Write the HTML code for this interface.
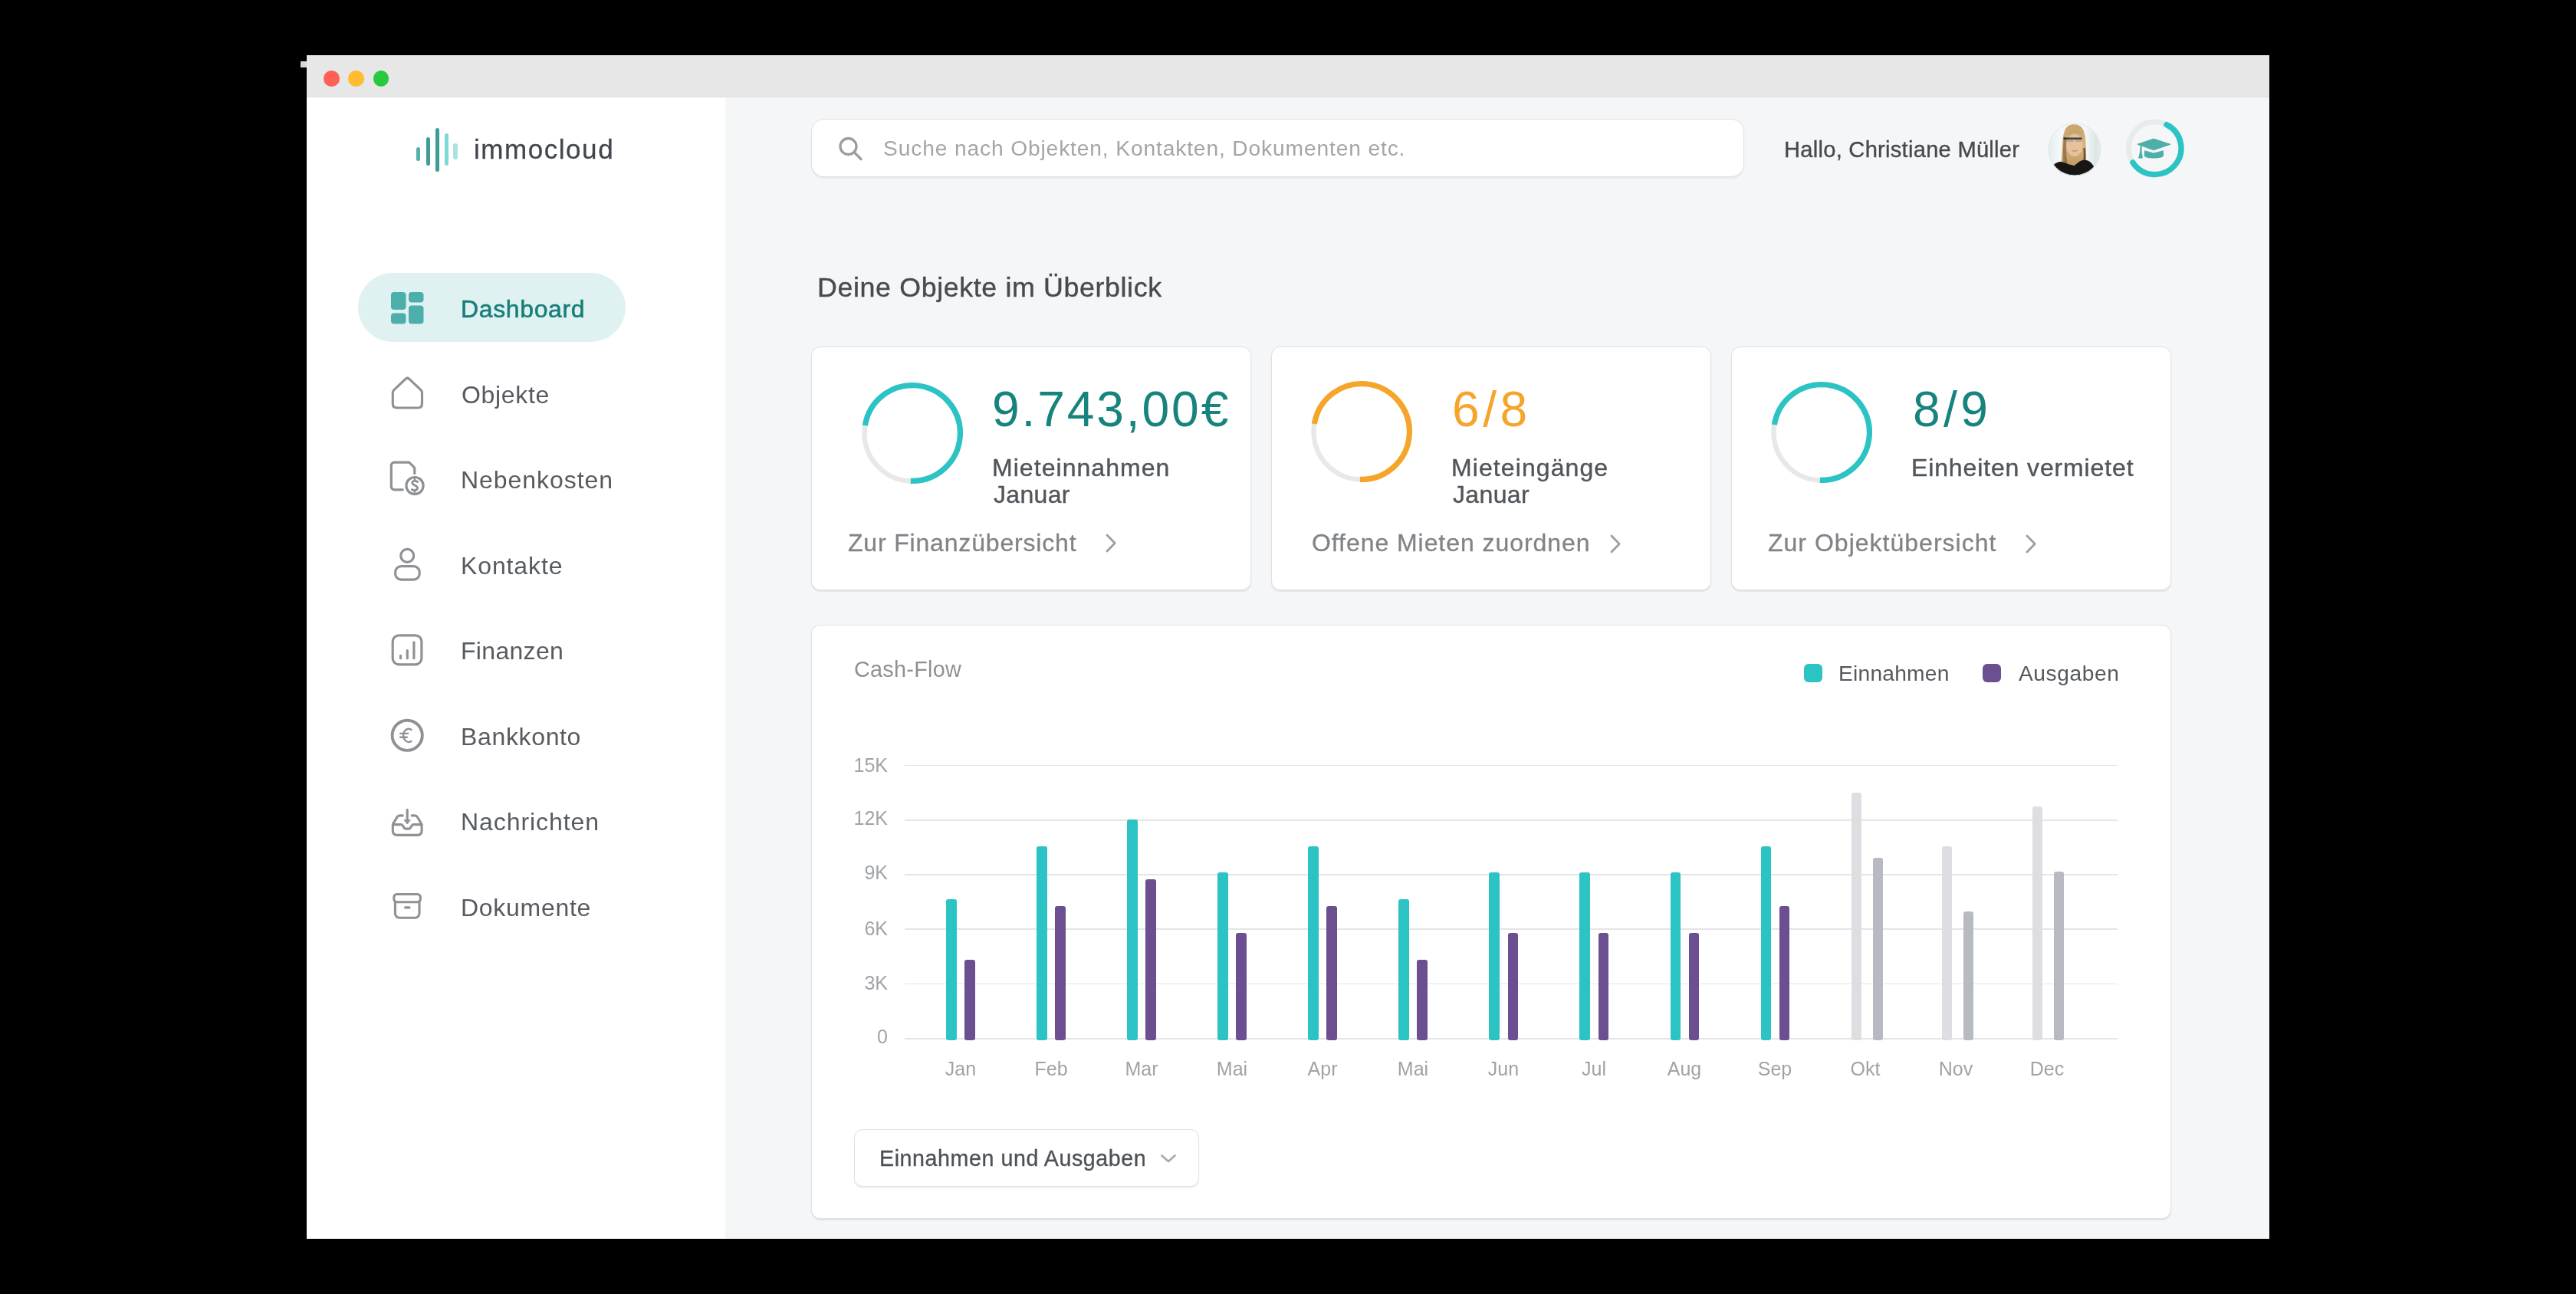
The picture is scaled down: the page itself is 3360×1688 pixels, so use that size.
<!DOCTYPE html>
<html><head><meta charset="utf-8"><title>immocloud Dashboard</title>
<style>
*{box-sizing:border-box;margin:0;padding:0}
html,body{width:3360px;height:1688px;overflow:hidden;background:#000;font-family:"Liberation Sans", sans-serif}
.a{position:absolute}
.t{position:absolute;white-space:nowrap;font-family:"Liberation Sans", sans-serif;will-change:transform}
.med{-webkit-text-stroke:0.45px currentColor}
.card{position:absolute;background:#fff;border:1.75px solid #E0E1E4;border-radius:12px;box-shadow:0 1.5px 1.5px rgba(0,0,0,0.08)}
</style></head><body>

<div class="a" style="left:392px;top:80px;width:8px;height:8px;background:#D7D7D7"></div>
<div class="a" style="left:400px;top:72px;width:2560px;height:55px;background:#E7E7E7"></div>
<div class="a" style="left:400px;top:126px;width:2560px;height:1px;background:#DEDEDE"></div>
<div class="a" style="left:422.0px;top:92.2px;width:20.6px;height:20.6px;border-radius:50%;background:#FE5F57"></div>
<div class="a" style="left:454.3px;top:92.2px;width:20.6px;height:20.6px;border-radius:50%;background:#FEBC2E"></div>
<div class="a" style="left:486.7px;top:92.2px;width:20.6px;height:20.6px;border-radius:50%;background:#28C840"></div>
<div class="a" style="left:400px;top:127px;width:546px;height:1489px;background:#FFFFFF"></div>
<div class="a" style="left:946px;top:127px;width:2014px;height:1489px;background:#F5F6F8"></div>
<div class="a" style="left:542.8px;top:192.3px;width:5.1px;height:17.6px;border-radius:3px;background:#52B3A8"></div>
<div class="a" style="left:555.5px;top:178.9px;width:5.3px;height:37.0px;border-radius:3px;background:#3F9C96"></div>
<div class="a" style="left:567.5px;top:167.0px;width:5.2px;height:56.5px;border-radius:3px;background:#3E9C96"></div>
<div class="a" style="left:579.8px;top:173.7px;width:5.1px;height:42.7px;border-radius:3px;background:#7FD8D8"></div>
<div class="a" style="left:591.4px;top:187.0px;width:5.4px;height:21.3px;border-radius:3px;background:#A6E3E3"></div>
<div class="a" style="left:467px;top:356px;width:349px;height:90px;border-radius:45px;background:#E0F1F1"></div>
<svg class="a" style="left:0;top:0" width="1000" height="1300" viewBox="0 0 1000 1300">
<g fill="#4DAFAA">
<rect x="510" y="381" width="19.5" height="23" rx="4"/>
<rect x="533" y="381" width="19.5" height="13.5" rx="4"/>
<rect x="510" y="408.5" width="19.5" height="14" rx="4"/>
<rect x="533" y="398.5" width="19.5" height="24" rx="4"/>
</g>
<g fill="none" stroke="#8E9196" stroke-width="3.15" stroke-linecap="round" stroke-linejoin="round">
<path d="M517.5 532H545.3Q550.5 532 550.5 526.8V512.5Q550.5 510 548.6 508.4L533.6 494.2Q531.4 492.3 529.2 494.2L514.2 508.4Q512.3 510 512.3 512.5V526.8Q512.3 532 517.5 532Z"/>
<path d="M525.3 638.8H514.3a4 4 0 0 1-4-4V607.1a4 4 0 0 1 4-4H532.5a3 3 0 0 1 2.1 0.9l5.3 5.3a3 3 0 0 1 0.9 2.1V617.7" stroke-width="3.2"/>
<circle cx="541" cy="633.6" r="11.1" stroke-width="3.2"/>
<path d="M544.6 628.6C543.4 626.9 537.8 626.6 537.8 629.9C537.8 633.1 544.6 632.8 544.6 636.6C544.6 640.3 538.6 640 537.3 638.5M541 625.5V626.9M541 640.3V641.6" stroke-width="2.8"/>
<circle cx="531.2" cy="724.8" r="8.5"/>
<rect x="515.6" y="738.6" width="31.6" height="17.6" rx="7.8"/>
<rect x="512.2" y="828.8" width="37.7" height="38" rx="8"/>
<path d="M522.5 855.2V858.7M531.3 848.5V858.7M539.9 837.8V858.7"/>
<circle cx="531.2" cy="959.3" r="19.6" stroke-width="3.9"/>
<path d="M537.2 952.4A7 8.6 0 1 0 537.2 966.3" stroke-width="2.4" stroke-linecap="butt"/>
<path d="M521.2 956.9H533M521.2 961.7H531.7" stroke-width="2.4" stroke-linecap="butt"/>
<path d="M525.3 1063.9H521.6Q519.2 1063.9 518 1065.8L513.3 1073.6Q512.3 1075.2 512.3 1077.3V1083.6Q512.3 1089.4 518.1 1089.4H544.3Q550.1 1089.4 550.1 1083.6V1077.3Q550.1 1075.2 549.1 1073.6L544.4 1065.8Q543.2 1063.9 540.8 1063.9H537.2" stroke-width="3.1"/>
<path d="M512.3 1075.6H523.2Q524.3 1075.6 525 1076.6L527.1 1079.9Q527.9 1081.1 529.2 1081.1H533.2Q534.5 1081.1 535.3 1079.9L537.4 1076.6Q538.1 1075.6 539.2 1075.6H550.1" stroke-width="3.1"/>
<path d="M531.2 1056.2V1070" stroke-width="3.1"/>
<rect x="513.8" y="1166.5" width="34.6" height="10.2" rx="4" stroke-width="3.1"/>
<path d="M515.4 1176.7V1191.5a5.8 5.8 0 0 0 5.8 5.8H541.2a5.8 5.8 0 0 0 5.8-5.8V1176.7M528.6 1183.9H534" stroke-width="3.1"/>
</g>
<path d="M527 1069.6H535.4L531.2 1075Z" fill="#8E9196" stroke="#8E9196" stroke-width="0.8" stroke-linejoin="round"/>
</svg>
<div class="a" style="left:1058px;top:155px;width:1217px;height:76px;border-radius:17px;background:#fff;border:1.75px solid #E0E1E4;box-shadow:0 1.5px 1.5px rgba(0,0,0,0.06)"></div>
<svg class="a" style="left:1090px;top:175px" width="40" height="40" viewBox="0 0 40 40"><g fill="none" stroke="#9A9DA1" stroke-width="3.3" stroke-linecap="round"><circle cx="16.5" cy="16" r="10.5"/><path d="M24.5 24l8.5 8.5"/></g></svg>
<svg class="a" style="left:2671px;top:160px" width="70" height="70" viewBox="0 0 70 70">
<defs><clipPath id="av"><circle cx="35" cy="34.9" r="34.3"/></clipPath>
<linearGradient id="bgav" x1="0" y1="0" x2="1" y2="0"><stop offset="0" stop-color="#E3EBEB"/><stop offset="0.25" stop-color="#F7F9F9"/><stop offset="0.7" stop-color="#F4F7F7"/><stop offset="0.9" stop-color="#DCE6E6"/><stop offset="1" stop-color="#E8EEEE"/></linearGradient>
<linearGradient id="hair" x1="0" y1="0" x2="0" y2="1"><stop offset="0" stop-color="#C9A46C"/><stop offset="0.5" stop-color="#D6B47E"/><stop offset="1" stop-color="#C29B63"/></linearGradient></defs>
<g clip-path="url(#av)">
<rect width="70" height="70" fill="url(#bgav)"/>
<path d="M34.6 2.3C28 2.3 24.5 5 22.5 9.5C20 15 19.5 22 18.8 32C18.2 40 18 47 17.6 55L28 56L42 55L50.2 50C50 42 50 33 49.2 22C48.5 13 46 7 42 4.5C40 3 37.5 2.3 34.6 2.3Z" fill="url(#hair)"/>
<path d="M21 18C20 28 19.5 40 20.5 52L25.5 53C24 42 23.5 30 24.5 20Z" fill="#6E5235" opacity="0.55"/>
<path d="M46.5 33C47 40 47 46 46 51L49 50C49.5 44 49.3 38 48.8 33Z" fill="#3A2C20" opacity="0.7"/>
<ellipse cx="35" cy="29.5" rx="10.6" ry="14.6" fill="#E6C29B"/>
<path d="M24 17C26 10 32 8 37 9C42 10 45.5 13 46.5 18C42 14 36 13.5 31 14.5C28 15 25.5 16 24 17Z" fill="#C9A46C"/>
<path d="M20.5 19.5H44.5V22H20.5Z" fill="#2E2A2A" opacity="0.9"/>
<path d="M24.5 21.5H33.5V25H24.5ZM36 21.5H44V25H36Z" fill="#9C8C96" opacity="0.55"/>
<path d="M31 36C33 37.5 37 37.5 39 36" stroke="#B07F6A" stroke-width="1" fill="none"/>
<path d="M5 58C9 53 13 51 16.4 51C21 51.5 25 53 28 54.5L34.6 56L41 51C44 49 47 48.5 50 49C54 49.5 57 52 60 57L62 72L5 72Z" fill="#161616"/>
</g>
<circle cx="35" cy="34.9" r="34" fill="none" stroke="#E2E6E8" stroke-width="1"/>
</svg>
<svg class="a" style="left:2760px;top:143px" width="102" height="102" viewBox="0 0 102 102">
<circle cx="50.7" cy="50.3" r="34.3" fill="none" stroke="#E9EAEC" stroke-width="7"/>
<path d="M66.00 19.60A34.3 34.3 0 1 1 21.93 68.98" fill="none" stroke="#2BC4C4" stroke-width="7.4" stroke-linecap="round"/>
<g fill="#4DAFAA">
<path d="M28 45.2L49.1 38.1L71 45.3L49.1 52.7Z" stroke="#4DAFAA" stroke-width="1" stroke-linejoin="round"/>
<path d="M37.2 53.2L49.1 56.6L61.7 53.2L62.2 59.2Q62 63.6 49.1 63.6Q36.6 63.6 36.7 59.2Z"/>
<path d="M31.6 46.5L33.6 46.5L33.7 55L34.9 63.6L29.1 63.6L31.2 55Z"/>
</g>
</svg>
<div class="card" style="left:1058px;top:452px;width:574.0px;height:318px"></div>
<div class="card" style="left:1658px;top:452px;width:574.0px;height:318px"></div>
<div class="card" style="left:2258px;top:452px;width:574.0px;height:318px"></div>
<svg class="a" style="left:1120.2px;top:495.0px" width="140" height="140" viewBox="0 0 140 140">
<circle cx="70" cy="70" r="62.5" fill="none" stroke="#E8E8E9" stroke-width="6.4"/>
<path d="M8.40 60.02A62.4 62.4 0 1 1 67.82 132.36" fill="none" stroke="#2BC3C3" stroke-width="7.2"/>
</svg>
<svg class="a" style="left:1705.9px;top:493.1px" width="140" height="140" viewBox="0 0 140 140">
<circle cx="70" cy="70" r="62.5" fill="none" stroke="#E8E8E9" stroke-width="6.4"/>
<path d="M8.40 60.02A62.4 62.4 0 1 1 67.82 132.36" fill="none" stroke="#F5A52A" stroke-width="7.2"/>
</svg>
<svg class="a" style="left:2306.0px;top:494.4px" width="140" height="140" viewBox="0 0 140 140">
<circle cx="70" cy="70" r="62.5" fill="none" stroke="#E8E8E9" stroke-width="6.4"/>
<path d="M8.40 60.02A62.4 62.4 0 1 1 67.82 132.36" fill="none" stroke="#2BC3C3" stroke-width="7.2"/>
</svg>
<svg class="a" style="left:1438px;top:692px" width="24" height="32" viewBox="0 0 24 32"><path d="M6 6L16.2 16.5L6 27" fill="none" stroke="#9B9EA2" stroke-width="2.8" stroke-linecap="round" stroke-linejoin="round"/></svg>
<svg class="a" style="left:2096px;top:693px" width="24" height="32" viewBox="0 0 24 32"><path d="M6 6L16.2 16.5L6 27" fill="none" stroke="#9B9EA2" stroke-width="2.8" stroke-linecap="round" stroke-linejoin="round"/></svg>
<svg class="a" style="left:2638px;top:693px" width="24" height="32" viewBox="0 0 24 32"><path d="M6 6L16.2 16.5L6 27" fill="none" stroke="#9B9EA2" stroke-width="2.8" stroke-linecap="round" stroke-linejoin="round"/></svg>
<div class="card" style="left:1058px;top:815px;width:1774px;height:774.5px;border-radius:12px"></div>
<div class="a" style="left:2353.1px;top:865.8px;width:24.1px;height:24.1px;border-radius:6px;background:#2BC3C3"></div>
<div class="a" style="left:2586.2px;top:865.8px;width:24.1px;height:24.1px;border-radius:6px;background:#6B4F90"></div>
<div class="a" style="left:1180px;top:997.85px;width:1582.4px;height:1.5px;background:#E5E5E7"></div>
<div class="a" style="left:1180px;top:1069.05px;width:1582.4px;height:1.5px;background:#E5E5E7"></div>
<div class="a" style="left:1180px;top:1140.05px;width:1582.4px;height:1.5px;background:#E5E5E7"></div>
<div class="a" style="left:1180px;top:1211.15px;width:1582.4px;height:1.5px;background:#E5E5E7"></div>
<div class="a" style="left:1180px;top:1282.85px;width:1582.4px;height:1.5px;background:#E5E5E7"></div>
<div class="a" style="left:1180px;top:1354.10px;width:1582.4px;height:2.2px;background:#E5E5E7"></div>
<div class="a" style="left:1234.1px;top:1173.3px;width:13.5px;height:183.7px;border-radius:3px;background:#2BC3C3"></div>
<div class="a" style="left:1258.2px;top:1251.5px;width:13.6px;height:105.5px;border-radius:3px;background:#6B4F90"></div>
<div class="a" style="left:1352.1px;top:1103.7px;width:13.5px;height:253.3px;border-radius:3px;background:#2BC3C3"></div>
<div class="a" style="left:1376.2px;top:1181.9px;width:13.6px;height:175.1px;border-radius:3px;background:#6B4F90"></div>
<div class="a" style="left:1470.2px;top:1069.0px;width:13.5px;height:288.0px;border-radius:3px;background:#2BC3C3"></div>
<div class="a" style="left:1494.3px;top:1147.2px;width:13.6px;height:209.8px;border-radius:3px;background:#6B4F90"></div>
<div class="a" style="left:1588.2px;top:1138.3px;width:13.5px;height:218.7px;border-radius:3px;background:#2BC3C3"></div>
<div class="a" style="left:1612.3px;top:1216.5px;width:13.6px;height:140.5px;border-radius:3px;background:#6B4F90"></div>
<div class="a" style="left:1706.3px;top:1103.7px;width:13.5px;height:253.3px;border-radius:3px;background:#2BC3C3"></div>
<div class="a" style="left:1730.4px;top:1181.9px;width:13.6px;height:175.1px;border-radius:3px;background:#6B4F90"></div>
<div class="a" style="left:1824.3px;top:1173.3px;width:13.5px;height:183.7px;border-radius:3px;background:#2BC3C3"></div>
<div class="a" style="left:1848.4px;top:1251.5px;width:13.6px;height:105.5px;border-radius:3px;background:#6B4F90"></div>
<div class="a" style="left:1942.4px;top:1138.3px;width:13.5px;height:218.7px;border-radius:3px;background:#2BC3C3"></div>
<div class="a" style="left:1966.5px;top:1216.5px;width:13.6px;height:140.5px;border-radius:3px;background:#6B4F90"></div>
<div class="a" style="left:2060.4px;top:1138.3px;width:13.5px;height:218.7px;border-radius:3px;background:#2BC3C3"></div>
<div class="a" style="left:2084.5px;top:1216.5px;width:13.6px;height:140.5px;border-radius:3px;background:#6B4F90"></div>
<div class="a" style="left:2178.5px;top:1138.3px;width:13.5px;height:218.7px;border-radius:3px;background:#2BC3C3"></div>
<div class="a" style="left:2202.6px;top:1216.5px;width:13.6px;height:140.5px;border-radius:3px;background:#6B4F90"></div>
<div class="a" style="left:2296.6px;top:1103.7px;width:13.5px;height:253.3px;border-radius:3px;background:#2BC3C3"></div>
<div class="a" style="left:2320.7px;top:1181.9px;width:13.6px;height:175.1px;border-radius:3px;background:#6B4F90"></div>
<div class="a" style="left:2414.6px;top:1034.4px;width:13.5px;height:322.6px;border-radius:3px;background:#DDDEE1"></div>
<div class="a" style="left:2442.5px;top:1119.4px;width:13.6px;height:237.6px;border-radius:3px;background:#B7BAC0"></div>
<div class="a" style="left:2532.6px;top:1104.0px;width:13.5px;height:253.0px;border-radius:3px;background:#DDDEE1"></div>
<div class="a" style="left:2560.5px;top:1189.0px;width:13.6px;height:168.0px;border-radius:3px;background:#B7BAC0"></div>
<div class="a" style="left:2650.7px;top:1052.0px;width:13.5px;height:305.0px;border-radius:3px;background:#DDDEE1"></div>
<div class="a" style="left:2678.6px;top:1137.0px;width:13.6px;height:220.0px;border-radius:3px;background:#B7BAC0"></div>
<div class="a" style="left:1113.5px;top:1472.5px;width:450px;height:75.5px;border-radius:11px;background:#fff;border:1.75px solid #DFE0E3;box-shadow:0 1.5px 1.5px rgba(0,0,0,0.06)"></div>
<svg class="a" style="left:1509px;top:1498px" width="30" height="26" viewBox="0 0 30 26"><path d="M6.5 9.4L14.95 17.1L23.4 9.4" fill="none" stroke="#A7AAAD" stroke-width="2.7" stroke-linecap="round" stroke-linejoin="round"/></svg>
<div class="t" style="left:618.00px;top:177.00px;font-size:35px;line-height:35px;color:#41474D;letter-spacing:1.547px;-webkit-text-stroke:0.3px currentColor">immocloud</div>
<div class="t" style="left:600.50px;top:387.00px;font-size:32px;line-height:32px;color:#167F79;letter-spacing:0.625px;-webkit-text-stroke:0.55px currentColor">Dashboard</div>
<div class="t" style="left:601.50px;top:499.00px;font-size:32px;line-height:32px;color:#575B60;letter-spacing:0.667px;">Objekte</div>
<div class="t" style="left:600.50px;top:610.00px;font-size:32px;line-height:32px;color:#575B60;letter-spacing:0.950px;">Nebenkosten</div>
<div class="t" style="left:600.50px;top:722.00px;font-size:32px;line-height:32px;color:#575B60;letter-spacing:0.885px;">Kontakte</div>
<div class="t" style="left:600.50px;top:833.00px;font-size:32px;line-height:32px;color:#575B60;letter-spacing:0.314px;">Finanzen</div>
<div class="t" style="left:600.50px;top:945.00px;font-size:32px;line-height:32px;color:#575B60;letter-spacing:0.650px;">Bankkonto</div>
<div class="t" style="left:600.50px;top:1056.00px;font-size:32px;line-height:32px;color:#575B60;letter-spacing:0.920px;">Nachrichten</div>
<div class="t" style="left:600.50px;top:1168.00px;font-size:32px;line-height:32px;color:#575B60;letter-spacing:0.722px;">Dokumente</div>
<div class="t" style="left:1151.50px;top:179.00px;font-size:28.2px;line-height:28.2px;color:#A3A5A8;letter-spacing:0.860px;">Suche nach Objekten, Kontakten, Dokumenten etc.</div>
<div class="t" style="left:2326.60px;top:181.00px;font-size:29.1px;line-height:29.1px;color:#46494E;letter-spacing:0.270px;-webkit-text-stroke:0.35px currentColor">Hallo, Christiane Müller</div>
<div class="t" style="left:1065.50px;top:358.00px;font-size:35.8px;line-height:35.8px;color:#474B50;letter-spacing:0.616px;-webkit-text-stroke:0.4px currentColor">Deine Objekte im Überblick</div>
<div class="t" style="left:1293.90px;top:502.00px;font-size:64.2px;line-height:64.2px;color:#16847D;letter-spacing:2.847px;">9.743,00€</div>
<div class="t" style="left:1294.00px;top:594.00px;font-size:32px;line-height:32px;color:#51565B;letter-spacing:1.051px;-webkit-text-stroke:0.4px currentColor">Mieteinnahmen</div>
<div class="t" style="left:1296.00px;top:629.00px;font-size:32px;line-height:32px;color:#51565B;letter-spacing:0.320px;-webkit-text-stroke:0.4px currentColor">Januar</div>
<div class="t" style="left:1106.20px;top:692.00px;font-size:32px;line-height:32px;color:#808488;letter-spacing:0.822px;-webkit-text-stroke:0.3px currentColor">Zur Finanzübersicht</div>
<div class="t" style="left:1894.00px;top:502.00px;font-size:64.2px;line-height:64.2px;color:#F5A52A;letter-spacing:4.500px;">6/8</div>
<div class="t" style="left:1893.20px;top:594.00px;font-size:32px;line-height:32px;color:#51565B;letter-spacing:1.091px;-webkit-text-stroke:0.4px currentColor">Mieteingänge</div>
<div class="t" style="left:1895.20px;top:629.00px;font-size:32px;line-height:32px;color:#51565B;letter-spacing:0.360px;-webkit-text-stroke:0.4px currentColor">Januar</div>
<div class="t" style="left:1710.90px;top:692.00px;font-size:32px;line-height:32px;color:#808488;letter-spacing:0.943px;-webkit-text-stroke:0.3px currentColor">Offene Mieten zuordnen</div>
<div class="t" style="left:2495.00px;top:502.00px;font-size:64.2px;line-height:64.2px;color:#16847D;letter-spacing:4.400px;">8/9</div>
<div class="t" style="left:2493.20px;top:594.00px;font-size:32px;line-height:32px;color:#51565B;letter-spacing:0.868px;-webkit-text-stroke:0.4px currentColor">Einheiten vermietet</div>
<div class="t" style="left:2306.20px;top:692.00px;font-size:32px;line-height:32px;color:#808488;letter-spacing:1.011px;-webkit-text-stroke:0.3px currentColor">Zur Objektübersicht</div>
<div class="t" style="left:1113.50px;top:859.00px;font-size:28.8px;line-height:28.8px;color:#8E9195;letter-spacing:0.275px;">Cash-Flow</div>
<div class="t" style="left:2398.10px;top:864.00px;font-size:28.2px;line-height:28.2px;color:#55595E;letter-spacing:0.222px;">Einnahmen</div>
<div class="t" style="left:2632.60px;top:864.00px;font-size:28.2px;line-height:28.2px;color:#55595E;letter-spacing:0.572px;">Ausgaben</div>
<div class="t" style="left:1147.10px;top:1497.00px;font-size:28.6px;line-height:28.6px;color:#4E5257;letter-spacing:0.581px;-webkit-text-stroke:0.35px currentColor">Einnahmen und Ausgaben</div>
<div class="t" style="left:957.60px;top:986.00px;font-size:25px;line-height:25px;color:#A0A3A7;letter-spacing:0.000px;width:200px;text-align:right;">15K</div>
<div class="t" style="left:957.60px;top:1055.00px;font-size:25px;line-height:25px;color:#A0A3A7;letter-spacing:0.000px;width:200px;text-align:right;">12K</div>
<div class="t" style="left:957.60px;top:1126.00px;font-size:25px;line-height:25px;color:#A0A3A7;letter-spacing:0.000px;width:200px;text-align:right;">9K</div>
<div class="t" style="left:957.60px;top:1199.00px;font-size:25px;line-height:25px;color:#A0A3A7;letter-spacing:0.000px;width:200px;text-align:right;">6K</div>
<div class="t" style="left:957.60px;top:1270.00px;font-size:25px;line-height:25px;color:#A0A3A7;letter-spacing:0.000px;width:200px;text-align:right;">3K</div>
<div class="t" style="left:957.60px;top:1340.00px;font-size:25px;line-height:25px;color:#A0A3A7;letter-spacing:0.000px;width:200px;text-align:right;">0</div>
<div class="t" style="left:1152.90px;top:1382.00px;font-size:25px;line-height:25px;color:#A0A3A7;letter-spacing:0.000px;width:200px;text-align:center;">Jan</div>
<div class="t" style="left:1270.95px;top:1382.00px;font-size:25px;line-height:25px;color:#A0A3A7;letter-spacing:0.000px;width:200px;text-align:center;">Feb</div>
<div class="t" style="left:1389.00px;top:1382.00px;font-size:25px;line-height:25px;color:#A0A3A7;letter-spacing:0.000px;width:200px;text-align:center;">Mar</div>
<div class="t" style="left:1507.05px;top:1382.00px;font-size:25px;line-height:25px;color:#A0A3A7;letter-spacing:0.000px;width:200px;text-align:center;">Mai</div>
<div class="t" style="left:1625.10px;top:1382.00px;font-size:25px;line-height:25px;color:#A0A3A7;letter-spacing:0.000px;width:200px;text-align:center;">Apr</div>
<div class="t" style="left:1743.15px;top:1382.00px;font-size:25px;line-height:25px;color:#A0A3A7;letter-spacing:0.000px;width:200px;text-align:center;">Mai</div>
<div class="t" style="left:1861.20px;top:1382.00px;font-size:25px;line-height:25px;color:#A0A3A7;letter-spacing:0.000px;width:200px;text-align:center;">Jun</div>
<div class="t" style="left:1979.25px;top:1382.00px;font-size:25px;line-height:25px;color:#A0A3A7;letter-spacing:0.000px;width:200px;text-align:center;">Jul</div>
<div class="t" style="left:2097.30px;top:1382.00px;font-size:25px;line-height:25px;color:#A0A3A7;letter-spacing:0.000px;width:200px;text-align:center;">Aug</div>
<div class="t" style="left:2215.35px;top:1382.00px;font-size:25px;line-height:25px;color:#A0A3A7;letter-spacing:0.000px;width:200px;text-align:center;">Sep</div>
<div class="t" style="left:2333.40px;top:1382.00px;font-size:25px;line-height:25px;color:#A0A3A7;letter-spacing:0.000px;width:200px;text-align:center;">Okt</div>
<div class="t" style="left:2451.45px;top:1382.00px;font-size:25px;line-height:25px;color:#A0A3A7;letter-spacing:0.000px;width:200px;text-align:center;">Nov</div>
<div class="t" style="left:2569.50px;top:1382.00px;font-size:25px;line-height:25px;color:#A0A3A7;letter-spacing:0.000px;width:200px;text-align:center;">Dec</div>
</body></html>
